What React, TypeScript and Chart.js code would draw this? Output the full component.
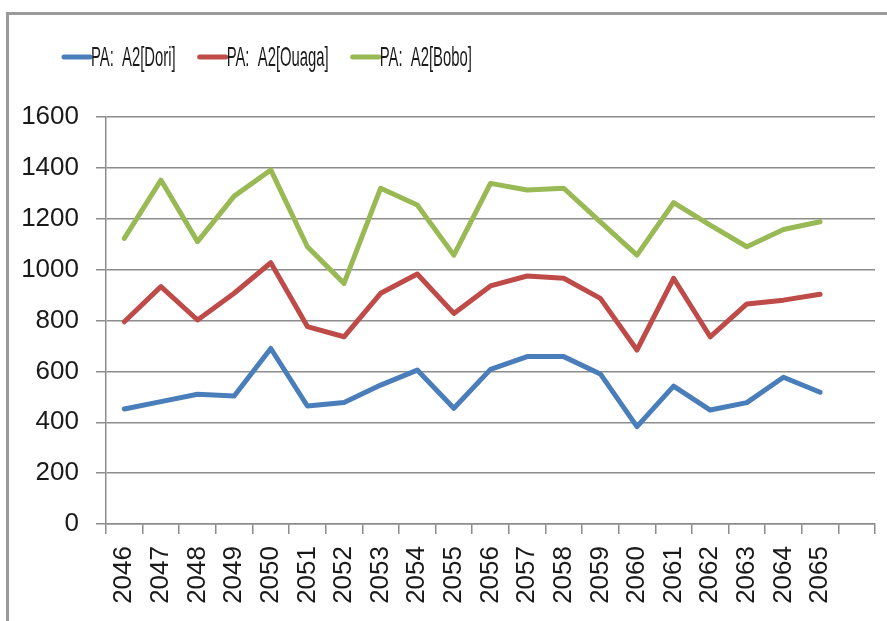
import React, { useEffect, useRef } from "react";
import { Chart, registerables } from "chart.js";

Chart.register(...registerables);

const years = [
  "2046", "2047", "2048", "2049", "2050", "2051", "2052", "2053", "2054", "2055",
  "2056", "2057", "2058", "2059", "2060", "2061", "2062", "2063", "2064", "2065", "",
];

const dori = [452, 481, 510, 503, 690, 464, 478, 546, 605, 455, 608, 658, 658, 590, 383, 542, 448, 477, 577, 518];
const ouaga = [795, 933, 802, 907, 1027, 776, 736, 907, 983, 828, 936, 975, 966, 887, 684, 966, 736, 865, 880, 903];
const bobo = [1123, 1352, 1110, 1289, 1392, 1090, 946, 1320, 1254, 1057, 1339, 1313, 1320, 1188, 1057, 1263, 1175, 1090, 1158, 1188];

const seriesLabels = ["PA:  A2[Dori]", "PA:  A2[Ouaga]", "PA:  A2[Bobo]"];
const yTicks = [0, 200, 400, 600, 800, 1000, 1200, 1400, 1600];

const colors = ["#4a7ebb", "#be4b48", "#98b954"];
const gridColor = "#8c8c8c";

const legendPlugin = {
  id: "customLegend",
  afterDraw(chart: any) {
    const ctx = chart.ctx;
    const startX = 62;
    const cy = 57;
    const lineLen = 28;
    const gap = 22;
    const sx = 0.53;
    ctx.save();
    ctx.font = "28px 'Liberation Sans', Arial, sans-serif";
    ctx.textBaseline = "middle";
    let x = startX;
    chart.data.datasets.forEach((ds: any) => {
      ctx.strokeStyle = ds.borderColor;
      ctx.lineWidth = 5;
      ctx.lineCap = "round";
      ctx.beginPath();
      ctx.moveTo(x + 2, cy);
      ctx.lineTo(x + lineLen, cy);
      ctx.stroke();
      const tx = x + lineLen + 1;
      const w = ctx.measureText(ds.label).width * sx;
      ctx.save();
      ctx.translate(tx, cy);
      ctx.scale(sx, 1);
      ctx.fillStyle = "#1a1a1a";
      ctx.fillText(ds.label, 0, 1);
      ctx.restore();
      x = tx + w + gap;
    });
    ctx.restore();
  },
};

export default function App() {
  const ref = useRef<HTMLCanvasElement | null>(null);

  useEffect(() => {
    if (!ref.current) return;
    const chart = new Chart(ref.current, {
      type: "line",
      data: {
        labels: years,
        datasets: [dori, ouaga, bobo].map((d, i) => ({
          label: seriesLabels[i],
          data: d,
          borderColor: colors[i],
          backgroundColor: colors[i],
          borderWidth: 5,
          pointRadius: 0,
          tension: 0,
          borderJoinStyle: "round" as const,
          borderCapStyle: "round" as const,
          fill: false,
        })),
      },
      options: {
        animation: false,
        responsive: false,
        maintainAspectRatio: false,
        layout: { padding: { top: 117, right: 12, left: 0, bottom: 0 } },
        plugins: {
          legend: { display: false },
          tooltip: { enabled: false },
        },
        scales: {
          x: {
            offset: true,
            grid: {
              offset: true,
              drawOnChartArea: false,
              drawTicks: true,
              tickLength: 10,
              color: gridColor,
              lineWidth: 1.5,
            },
            border: { display: true, color: gridColor, width: 1.5 },
            ticks: {
              autoSkip: false,
              minRotation: 90,
              maxRotation: 90,
              padding: 12,
              color: "#1a1a1a",
              font: { family: "'Liberation Sans', Arial, sans-serif", size: 26 },
            },
            afterFit(scale: any) {
              scale.height = 97;
              scale.paddingLeft = 0;
              scale.paddingRight = 0;
            },
          },
          y: {
            min: 0,
            max: 1600,
            afterBuildTicks(scale: any) {
              scale.ticks = yTicks.map((v) => ({ value: v }));
            },
            grid: {
              color: gridColor,
              lineWidth: 1.5,
              drawTicks: true,
              tickLength: 10,
            },
            border: { display: true, color: gridColor, width: 1.5 },
            ticks: {
              padding: 17,
              color: "#1a1a1a",
              font: { family: "'Liberation Sans', Arial, sans-serif", size: 26 },
              callback: (v: any) => String(v),
            },
            afterFit(scale: any) {
              scale.width = 106;
              scale.paddingTop = 0;
              scale.paddingBottom = 0;
            },
          },
        },
      },
      plugins: [legendPlugin],
    });
    return () => chart.destroy();
  }, []);

  return (
    <div
      style={{
        position: "fixed",
        left: 0,
        top: 0,
        width: 887,
        height: 621,
        overflow: "hidden",
        background: "#ffffff",
      }}
    >
      <div
        style={{
          position: "absolute",
          left: 6,
          top: 12,
          width: 1000,
          height: 1000,
          borderLeft: "3px solid #9a9a9a",
          borderTop: "3px solid #9a9a9a",
        }}
      />
      <canvas
        ref={ref}
        width={887}
        height={621}
        style={{ position: "absolute", left: 0, top: 0, width: 887, height: 621 }}
      />
    </div>
  );
}
